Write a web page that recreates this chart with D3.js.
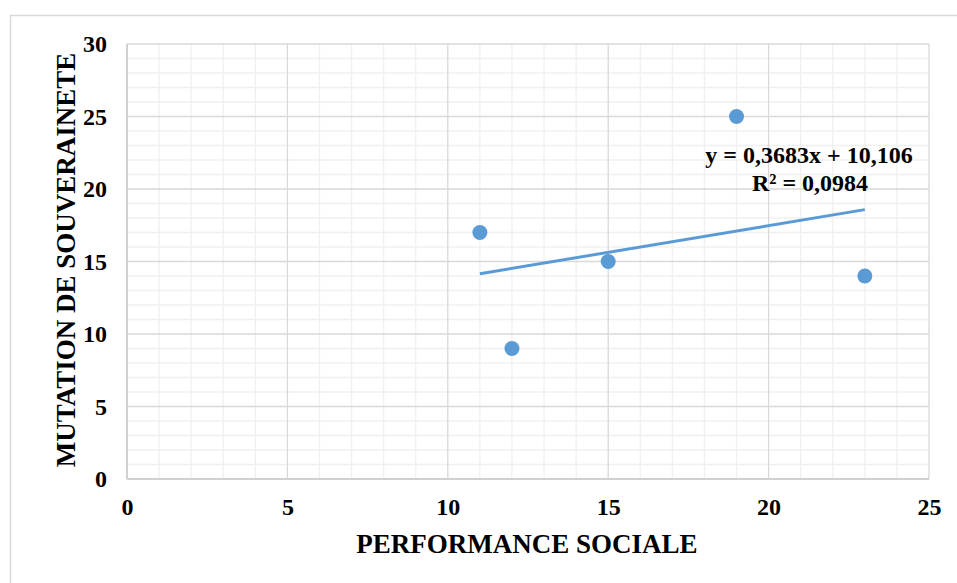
<!DOCTYPE html>
<html>
<head>
<meta charset="utf-8">
<script src="https://cdn.jsdelivr.net/npm/d3@7"></script>
<style>
  body { margin: 0; background: #fff; }
  svg text { font-family: "Liberation Serif", "Times New Roman", serif; font-weight: bold; fill: #000; }
</style>
</head>
<body>
<div id="chart"></div>
<script>
/*  Data  */
var perfSociale = [11, 12, 15, 19, 23];
var mutation    = [17, 9, 15, 25, 14];
var xTicks = [0, 5, 10, 15, 20, 25];
var yTicks = [0, 5, 10, 15, 20, 25, 30];
var trendSlope = 0.3683, trendIntercept = 10.106;
var trendLabel = ["y = 0,3683x + 10,106", "R² = 0,0984"];

var W = 957, H = 583;
var svg = d3.select("#chart").append("svg")
  .attr("width", W).attr("height", H);

// outer chart border
svg.append("rect")
  .attr("x", 10.5).attr("y", 15.5)
  .attr("width", W).attr("height", H)
  .attr("fill", "#fff").attr("stroke", "#d9d9d9").attr("stroke-width", 1.5);

var x = d3.scaleLinear().domain([0, 25]).range([127, 929]);
var y = d3.scaleLinear().domain([0, 30]).range([479, 44]);

// minor grid
svg.append("g").selectAll("line").data(d3.range(1, 25).filter(function(d){ return d % 5; }))
  .join("line")
  .attr("x1", function(d){ return x(d); }).attr("x2", function(d){ return x(d); })
  .attr("y1", y(0)).attr("y2", y(30))
  .attr("stroke", "#f0f0f0").attr("stroke-width", 1.3);
svg.append("g").selectAll("line").data(d3.range(1, 30).filter(function(d){ return d % 5; }))
  .join("line")
  .attr("x1", x(0)).attr("x2", x(25))
  .attr("y1", function(d){ return y(d); }).attr("y2", function(d){ return y(d); })
  .attr("stroke", "#f0f0f0").attr("stroke-width", 1.3);

// major grid
svg.append("g").selectAll("line").data(xTicks)
  .join("line")
  .attr("x1", function(d){ return x(d); }).attr("x2", function(d){ return x(d); })
  .attr("y1", y(0)).attr("y2", y(30))
  .attr("stroke", "#d9d9d9").attr("stroke-width", 1.3);
svg.append("g").selectAll("line").data(yTicks)
  .join("line")
  .attr("x1", x(0)).attr("x2", x(25))
  .attr("y1", function(d){ return y(d); }).attr("y2", function(d){ return y(d); })
  .attr("stroke", "#d9d9d9").attr("stroke-width", 1.3);

// axes (labels only)
var xAxis = svg.append("g").attr("transform", "translate(0," + y(0) + ")")
  .call(d3.axisBottom(x).tickValues(xTicks).tickSize(0).tickPadding(19));
var yAxis = svg.append("g").attr("transform", "translate(" + x(0) + ",0)")
  .call(d3.axisLeft(y).tickValues(yTicks).tickSize(0).tickPadding(20));
[xAxis, yAxis].forEach(function(a){
  a.select(".domain").remove();
  a.selectAll("text").attr("font-size", 24);
});
// axis lines
svg.append("line").attr("x1", x(0)).attr("x2", x(25)).attr("y1", y(0)).attr("y2", y(0))
  .attr("stroke", "#d0d0d0").attr("stroke-width", 2);
svg.append("line").attr("x1", x(0)).attr("x2", x(0)).attr("y1", y(0)).attr("y2", y(30))
  .attr("stroke", "#d0d0d0").attr("stroke-width", 2);

// trend line
var tx = [d3.min(perfSociale), d3.max(perfSociale)];
svg.append("line")
  .attr("x1", x(tx[0])).attr("y1", y(trendSlope * tx[0] + trendIntercept))
  .attr("x2", x(tx[1])).attr("y2", y(trendSlope * tx[1] + trendIntercept))
  .attr("stroke", "#5b9bd5").attr("stroke-width", 3);

// points
svg.append("g").selectAll("circle").data(perfSociale)
  .join("circle")
  .attr("cx", function(d){ return x(d); })
  .attr("cy", function(d, i){ return y(mutation[i]); })
  .attr("r", 7.5)
  .attr("fill", "#5b9bd5");

// trend equation
svg.append("text").attr("x", 809).attr("y", 163).attr("text-anchor", "middle")
  .attr("font-size", 24).text(trendLabel[0]);
svg.append("text").attr("x", 810).attr("y", 191).attr("text-anchor", "middle")
  .attr("font-size", 24).text(trendLabel[1]);

// axis titles
svg.append("text").attr("x", 527).attr("y", 553).attr("text-anchor", "middle")
  .attr("font-size", 27).text("PERFORMANCE SOCIALE");
svg.append("text").attr("transform", "translate(75,260) rotate(-90)")
  .attr("text-anchor", "middle").attr("font-size", 27).text("MUTATION DE SOUVERAINETE");
</script>
</body>
</html>
